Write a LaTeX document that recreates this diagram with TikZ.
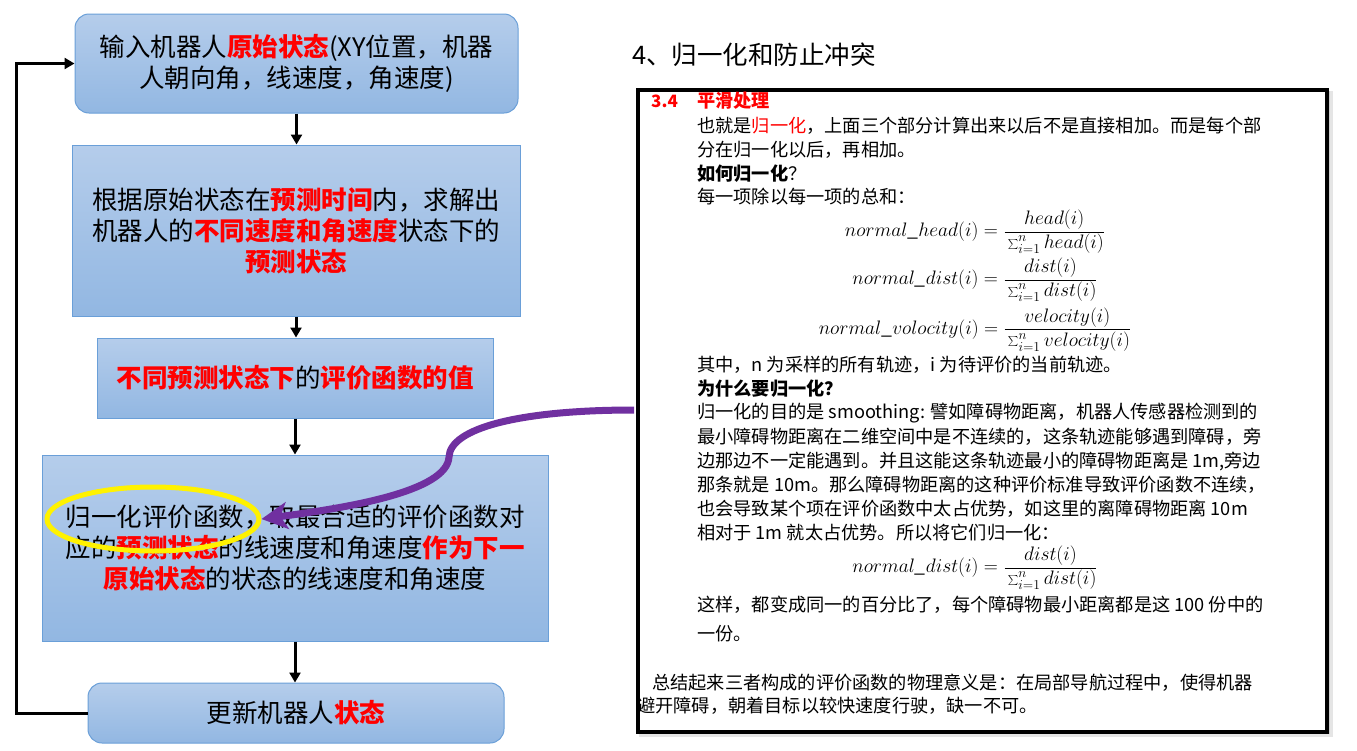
\RequirePackage{fix-cm}
\documentclass[tikz,border=0pt]{standalone}
\usepackage{fontspec}
\setmainfont{Noto Sans CJK SC}
\usetikzlibrary{arrows.meta,shapes.geometric}
\definecolor{boxtop}{RGB}{181,205,235}
\definecolor{boxbot}{RGB}{146,183,226}
\definecolor{boxline}{RGB}{106,159,216}
\definecolor{purp}{RGB}{112,48,160}
\newcommand\redb[1]{{\bfseries\color{red}#1}}
\newcommand\redn[1]{{\color{red}#1}}
\newcommand\normfrac[2]{\frac{\textstyle\rule[-0.33em]{0pt}{0pt}#1}{\textstyle\rule{0pt}{0.85em}#2}}
\begin{document}
\begin{tikzpicture}[x=1pt,y=-1pt,
  flowbox/.style={draw=boxline, line width=1pt, top color=boxtop, bottom color=boxbot, align=center, font=\fontsize{25.5}{31}\selectfont, inner sep=0pt},
  flowarrow/.style={line width=3pt, -{Triangle[length=10pt,width=11pt]}},
  paneltext/.style={anchor=west, inner sep=0pt, font=\fontsize{18.2}{22}\selectfont},
  panelbold/.style={anchor=west, inner sep=0pt, font=\bfseries\fontsize{18.2}{22}\selectfont},
  eqn/.style={inner sep=0pt, font=\fontsize{19.5}{23}\selectfont}
]
\useasboundingbox (0,0) rectangle (1357,750);
\fill[white] (0,0) rectangle (1357,750);

% ---------- left flow chart ----------
\node[flowbox, rounded corners=14pt, minimum width=443pt, minimum height=99pt] (b1) at (296.5,63.5)
  {输入机器人\redb{原始状态}(XY位置，机器\\人朝向角，线速度，角速度)};
\node[flowbox, minimum width=448pt, minimum height=171pt] (b2) at (296,230.5)
  {根据原始状态在\redb{预测时间}内，求解出\\机器人的\redb{不同速度和角速度}状态下的\\\redb{预测状态}};
\node[flowbox, minimum width=396pt, minimum height=80pt] (b3) at (295,378)
  {\redb{不同预测状态下}的\redb{评价函数的值}};
\node[flowbox, minimum width=506pt, minimum height=186pt] (b4) at (295,548)
  {归一化评价函数，取最合适的评价函数对\\应的\redb{预测状态}的线速度和角速度\redb{作为下一}\\\redb{原始状态}的状态的线速度和角速度};
\node[flowbox, rounded corners=14pt, minimum width=416pt, minimum height=60pt] (b5) at (296,713)
  {更新机器人\redb{状态}};

\draw[flowarrow] (b1.south) -- (b1.south |- b2.north);
\draw[flowarrow] (b2.south) -- (b2.south |- b3.north);
\draw[flowarrow] (b3.south) -- (b3.south |- b4.north);
\draw[flowarrow] (b4.south) -- (b4.south |- b5.north);
\draw[flowarrow] (b5.west) -- ++(-71,0) |- (b1.west);

\node[ellipse, draw=yellow, line width=5pt, minimum width=212pt, minimum height=64pt, inner sep=0pt] (hl) at (153,519) {};

% ---------- right panel ----------
\node[anchor=west, inner sep=0pt, font=\fontsize{25.5}{29}\selectfont] (title) at (632,55) {4、归一化和防止冲突};

\fill[black!10] (639,91) rectangle (1333,737);
\fill[black!20] (639,91) rectangle (1330,734);
\node[draw, line width=4pt, fill=white, minimum width=689pt, minimum height=642pt, inner sep=0pt, anchor=north west] (frame) at (636,88) {};

\node[panelbold, text=red, font=\bfseries\fontsize{17}{20}\selectfont] (sec) at (651,101) {3.4};
\node[panelbold, text=red] (sectitle) at (697,101) {平滑处理};
\node[paneltext] (l1) at (697,126) {也就是\redn{归一化}，上面三个部分计算出来以后不是直接相加。而是每个部};
\node[paneltext] (l2) at (697,150) {分在归一化以后，再相加。};
\node[panelbold] (l3) at (697,174) {如何归一化\mdseries ？};
\node[paneltext] (l4) at (697,197) {每一项除以每一项的总和：};
\node[eqn] (e1) at (975,232) {$normal\_head(i)=\normfrac{head(i)}{\sum_{i=1}^{n}head(i)}$};
\node[eqn] (e2) at (975,280) {$normal\_dist(i)=\normfrac{dist(i)}{\sum_{i=1}^{n}dist(i)}$};
\node[eqn] (e3) at (975,329.5) {$normal\_volocity(i)=\normfrac{velocity(i)}{\sum_{i=1}^{n}velocity(i)}$};
\node[paneltext] (l5) at (697,365) {其中，n 为采样的所有轨迹，i 为待评价的当前轨迹。};
\node[panelbold] (l6) at (697,389) {为什么要归一化？};
\node[paneltext] (l7) at (697,413) {归一化的目的是 smoothing: 譬如障碍物距离，机器人传感器检测到的};
\node[paneltext] (l8) at (697,437) {最小障碍物距离在二维空间中是不连续的，这条轨迹能够遇到障碍，旁};
\node[paneltext] (l9) at (697,461) {边那边不一定能遇到。并且这能这条轨迹最小的障碍物距离是 1m,旁边};
\node[paneltext] (l10) at (697,485) {那条就是 10m。那么障碍物距离的这种评价标准导致评价函数不连续，};
\node[paneltext] (l11) at (697,509) {也会导致某个项在评价函数中太占优势，如这里的离障碍物距离 10m};
\node[paneltext] (l12) at (697,533) {相对于 1m 就太占优势。所以将它们归一化：};
\node[eqn] (e4) at (975,568) {$normal\_dist(i)=\normfrac{dist(i)}{\sum_{i=1}^{n}dist(i)}$};
\node[paneltext] (l13) at (697,605) {这样，都变成同一的百分比了，每个障碍物最小距离都是这 100 份中的};
\node[paneltext] (l14) at (697,634) {一份。};
\node[paneltext] (l15) at (652,683) {总结起来三者构成的评价函数的物理意义是：在局部导航过程中，使得机器};
\node[paneltext] (l16) at (637,706) {避开障碍，朝着目标以较快速度行驶，缺一不可。};

% ---------- purple pointer ----------
\coordinate (ps) at (634,410);
\draw[purp, line width=7pt, -{Stealth[length=26pt,width=27pt,inset=7pt]}]
  (ps) .. controls (520,410) and (450,428) .. (449,457)
       .. controls (447,492) and (345,508) .. (hl.east);
\end{tikzpicture}
\end{document}
